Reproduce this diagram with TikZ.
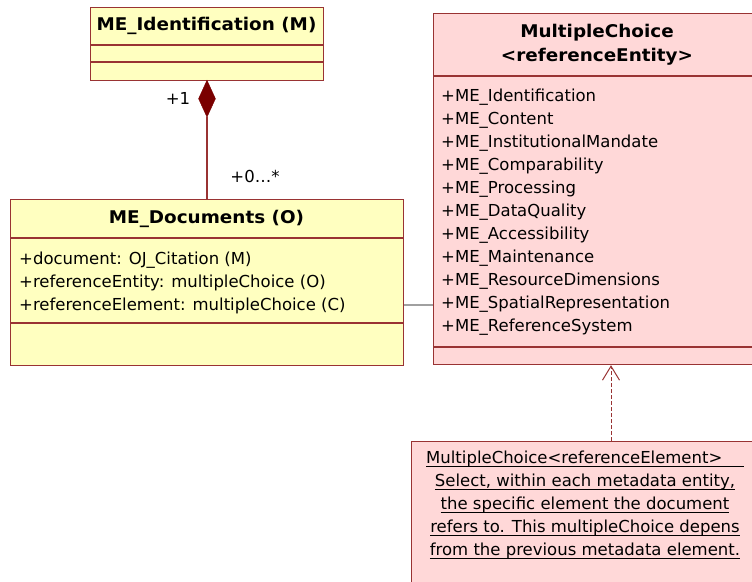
\documentclass[tikz,border=0pt]{standalone}
\usepackage{fontspec}
\setmainfont{DejaVu Sans}
\newfontfamily\titlefont[FakeStretch=1.05]{DejaVu Sans Bold}
\usetikzlibrary{arrows.meta,shapes.geometric}
\definecolor{classyellow}{HTML}{FFFFC0}
\definecolor{classpink}{HTML}{FFD8D8}
\definecolor{umlborder}{HTML}{993333}
\definecolor{umldiamond}{HTML}{7A0000}
\definecolor{assocgray}{HTML}{A0A0A0}
% underline at a fixed depth below the baseline, through descenders
\newcommand{\noteline}[1]{\setbox0\hbox{#1}\rlap{\rule[-3.5pt]{\wd0}{0.8pt}}\box0}
\tikzset{
  classbox/.style={draw=umlborder, line width=1.2pt, rectangle, inner sep=0pt, anchor=north west},
  sepline/.style={draw=umlborder, line width=1.2pt},
  classtitle/.style={font=\fontsize{17.5}{24}\selectfont\titlefont, inner sep=0pt, align=center},
  attrtext/.style={font=\fontsize{16.5}{23}\selectfont, inner sep=0pt, align=left, anchor=north west},
  notetext/.style={font=\fontsize{16.5}{23}\selectfont, inner sep=0pt, align=center},
  multlabel/.style={font=\fontsize{16.5}{20}\selectfont, inner sep=0pt},
}
\begin{document}
\begin{tikzpicture}[x=1pt, y=-1pt]
\useasboundingbox (0,0) rectangle (752,581);
\begin{scope}
\clip (0,0) rectangle (752,581);

% ME_Identification class
\node[classbox, fill=classyellow, minimum width=233pt, minimum height=73pt] (idbox) at (90,7) {};
\draw[sepline] (90,45) -- (323,45);
\draw[sepline] (90,62) -- (323,62);
\node[classtitle] (idtitle) at (206.5,26) {ME\_Identification (M)};

% ME_Documents class
\node[classbox, fill=classyellow, minimum width=393pt, minimum height=166pt] (docbox) at (10,199) {};
\draw[sepline] (10,238) -- (403,238);
\draw[sepline] (10,323) -- (403,323);
\node[classtitle] (doctitle) at (206.5,219) {ME\_Documents (O)};
\node[attrtext] (docattr) at (19,252) {+document: OJ\_Citation (M)\\
+referenceEntity: multipleChoice (O)\\
+referenceElement: multipleChoice (C)};

% MultipleChoice <referenceEntity> class
\node[classbox, fill=classpink, minimum width=328pt, minimum height=351pt] (mcbox) at (433,13) {};
\draw[sepline] (433,76) -- (761,76);
\draw[sepline] (433,347) -- (761,347);
\node[classtitle] (mctitle) at (597,45) {MultipleChoice\\<referenceEntity>};
\node[attrtext] (mcattr) at (441,89) {+ME\_Identification\\
+ME\_Content\\
+ME\_InstitutionalMandate\\
+ME\_Comparability\\
+ME\_Processing\\
+ME\_DataQuality\\
+ME\_Accessibility\\
+ME\_Maintenance\\
+ME\_ResourceDimensions\\
+ME\_SpatialRepresentation\\
+ME\_ReferenceSystem};

% Note on referenceElement
\node[classbox, fill=classpink, minimum width=350pt, minimum height=160pt] (notebox) at (411,441) {};
\node[notetext, anchor=north] (notetxt) at (585,451) {\noteline{MultipleChoice<referenceElement>\hspace{1.3em}}\\
\noteline{Select, within each metadata entity,}\\
\noteline{the specific element the document}\\
\noteline{refers to. This multipleChoice depens}\\
\noteline{from the previous metadata element.}};

% Composition between ME_Identification and ME_Documents
\node[diamond, draw=umldiamond, fill=umldiamond, minimum width=17pt, minimum height=37pt, inner sep=0pt, anchor=north] (dia) at (207,80) {};
\draw[umlborder, line width=1.2pt] (dia.south) -- (dia.south |- docbox.north);
\node[multlabel] (mone) at (178,98) {+1};
\node[multlabel] (mmany) at (255,176) {+0…*};

% Association to MultipleChoice
\coordinate (assocy) at (0,305);
\draw[assocgray, line width=1.2pt] (docbox.east |- assocy) -- (mcbox.west |- assocy);

% Dependency from the note
\coordinate (depx) at (611,0);
\draw[umlborder, line width=1pt, dash pattern=on 4pt off 2pt, -{Straight Barb[length=14pt,width=17pt,line width=1pt]}]
  (notebox.north -| depx) -- (mcbox.south -| depx);
\end{scope}
\end{tikzpicture}
\end{document}
